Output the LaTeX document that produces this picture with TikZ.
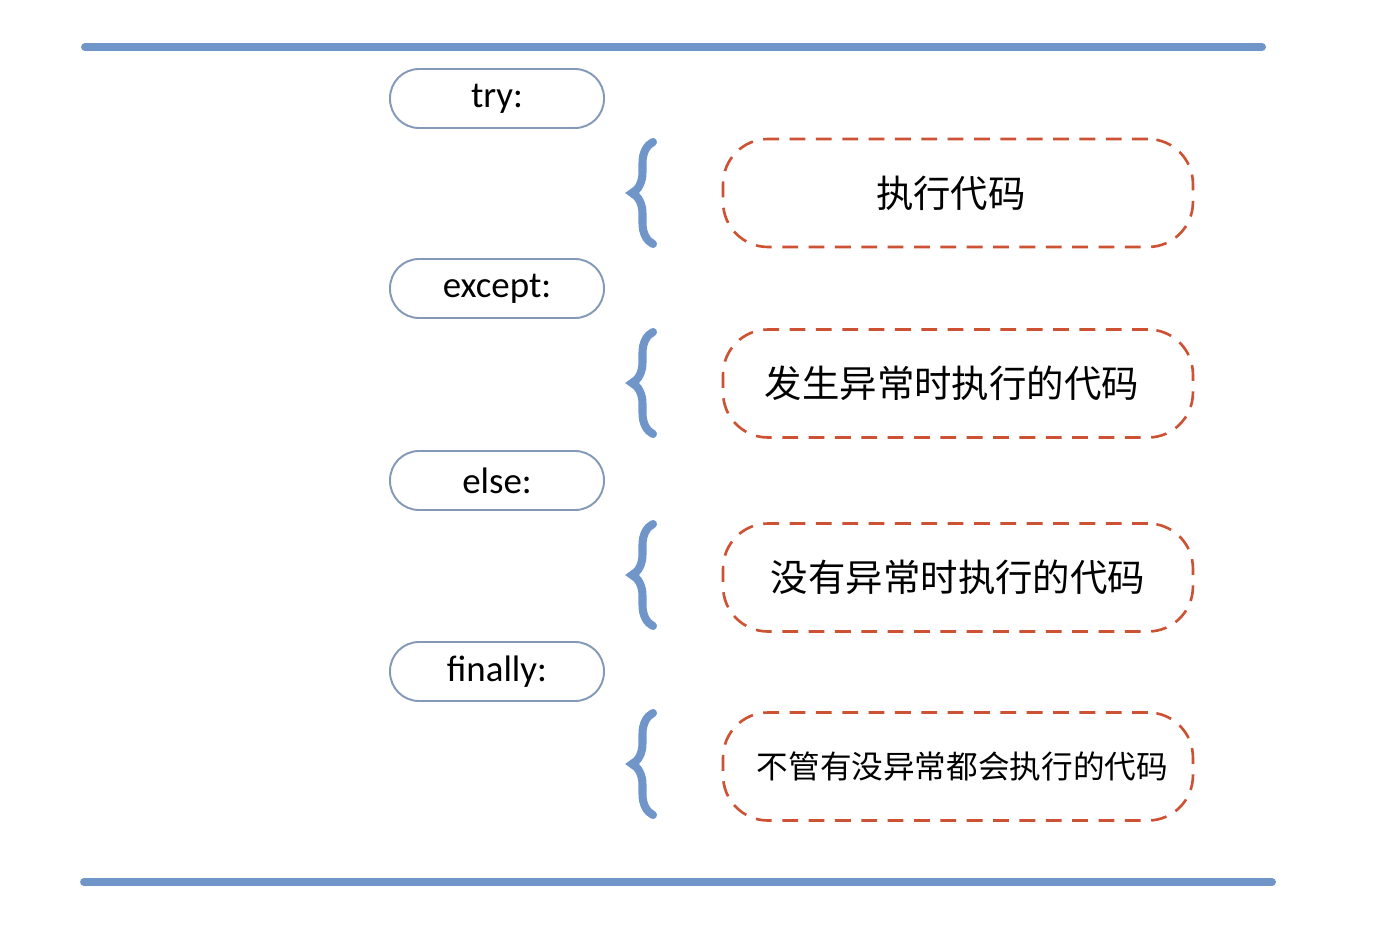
\documentclass[tikz,border=0pt]{standalone}
\usepackage{fontspec}
\setmainfont{Carlito}
\newfontfamily\cjk{Noto Sans CJK SC}
\usepackage{xcolor}
\usetikzlibrary{decorations.pathreplacing}
\definecolor{barc}{HTML}{6F95C9}
\definecolor{pillc}{HTML}{8499B8}
\definecolor{dashc}{HTML}{CC5233}

\begin{document}
\begin{tikzpicture}[x=0.02cm, y=-0.02cm,
  bar/.style={line width=4.5pt, draw=barc, line cap=round},
  kw/.style={rectangle, draw=pillc, line width=1.1pt, rounded corners=0.58cm,
             minimum width=4.28cm, minimum height=1.18cm, inner sep=0pt,
             font=\fontsize{21}{24}\selectfont},
  code/.style={rectangle, draw=dashc, line width=1.5pt, dash pattern=on 9pt off 6pt,
               rounded corners=0.9cm, minimum width=9.4cm, minimum height=2.16cm,
               inner sep=0pt, font=\cjk\fontsize{21.3}{25}\selectfont},
  br/.style={draw=barc, line width=4.6pt, line cap=round,
             decorate, decoration={brace, amplitude=0.42cm}}]
\useasboundingbox (0,0) rectangle (1400,940);
\fill[white] (0,0) rectangle (1400,940);
\draw[bar] (85,47) -- (1262,47);
\draw[bar] (84,882) -- (1272,882);
\node[kw] (try)     at (497,98.5)  {try:};
\node[kw] (except)  at (497,288.5) {except:};
\node[kw] (else)    at (497,480.5) {else:};
\node[kw] (finally) at (497,671.5) {finally:};
\node[code] (c1) at (958,193) {\hspace*{-8pt}执行代码};
\node[code] (c2) at (958,383.5) {\hspace*{-7pt}发生异常时执行的代码};
\node[code] (c3) at (958,577.5) {没有异常时执行的代码};
\node[code, font=\cjk\fontsize{18}{22}\selectfont] (c4) at (958,766.5) {\hspace*{5pt}不管有没异常都会执行的代码};
\draw[br] (653,244) -- (653,142);
\draw[br] (653,434) -- (653,332);
\draw[br] (653,626) -- (653,524);
\draw[br] (653,815) -- (653,713);
\end{tikzpicture}
\end{document}
